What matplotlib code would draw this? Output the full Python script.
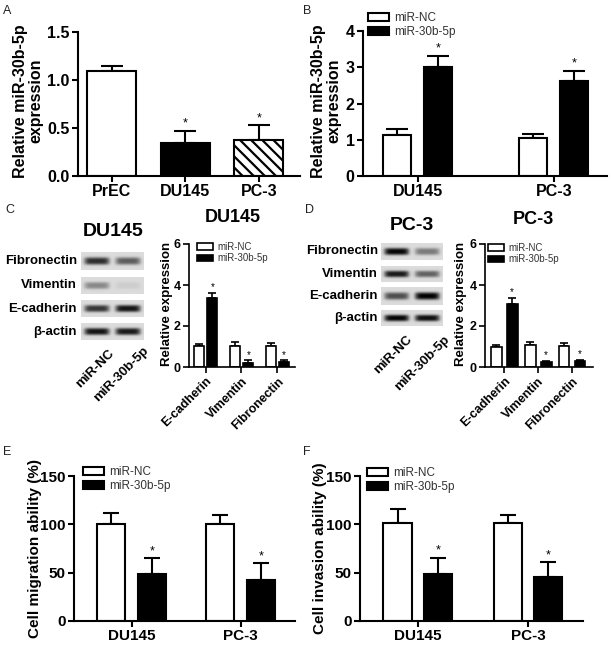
import numpy as np
import matplotlib
matplotlib.use("Agg")
import matplotlib.pyplot as plt

plt.rcParams['font.family'] = ['Liberation Sans', 'DejaVu Sans']
plt.rcParams['hatch.linewidth'] = 1.6

# ---- data ----
a_groups = ["PrEC", "DU145", "PC-3"]
a_vals = [1.09, 0.34, 0.37]
a_sd = [0.06, 0.13, 0.16]

groups = ["DU145", "PC-3"]
b_nc = [1.12, 1.05]
b_nc_sd = [0.19, 0.11]
b_mir = [3.02, 2.62]
b_mir_sd = [0.30, 0.28]

proteins = ["E-cadherin", "Vimentin", "Fibronectin"]
c_nc = [1.02, 1.02, 1.01]
c_nc_sd = [0.11, 0.20, 0.16]
c_mir = [3.36, 0.21, 0.26]
c_mir_sd = [0.27, 0.11, 0.07]

d_nc = [0.98, 1.06, 1.03]
d_nc_sd = [0.11, 0.16, 0.16]
d_mir = [3.07, 0.23, 0.28]
d_mir_sd = [0.32, 0.07, 0.06]

e_nc = [100, 100]
e_nc_sd = [12, 10]
e_mir = [49, 42]
e_mir_sd = [16, 18]

f_nc = [101, 101]
f_nc_sd = [15, 9]
f_mir = [49, 45.5]
f_mir_sd = [16.5, 15.5]

blot_rows = ["Fibronectin", "Vimentin", "E-cadherin", "β-actin"]
blot_lanes = ["miR-NC", "miR-30b-5p"]
# band darkness per row, per lane
du145_bands = [[0.72, 0.52], [0.34, 0.06], [0.68, 0.82], [0.82, 0.80]]
pc3_bands = [[0.88, 0.40], [0.80, 0.50], [0.58, 0.90], [0.88, 0.84]]

W, H = 613, 652
fig = plt.figure(figsize=(W / 100, H / 100), dpi=100)

ov = fig.add_axes([0, 0, 1, 1])
ov.axis('off')


def add_ax(x0, y0, x1, y1):
    return fig.add_axes([x0 / W, 1 - y1 / H, (x1 - x0) / W, (y1 - y0) / H])


def style(ax, ysize, lw=1.5):
    for s in ['top', 'right']:
        ax.spines[s].set_visible(False)
    for s in ['left', 'bottom']:
        ax.spines[s].set_linewidth(lw)
    ax.tick_params(width=lw, length=4, labelsize=ysize, pad=2)
    for t in ax.get_yticklabels():
        t.set_fontweight('bold')
    ax.patch.set_alpha(0)


def grouped(ax, nc, nc_sd, mir, mir_sd, width, off, cap, star, star_size, lw=1.5):
    x = np.arange(len(nc))
    b1 = ax.bar(x - off, nc, width, color='white', edgecolor='black',
                linewidth=lw, label='miR-NC', zorder=2)
    b2 = ax.bar(x + off, mir, width, color='black', edgecolor='black',
                linewidth=lw, label='miR-30b-5p', zorder=2)
    ax.errorbar(x - off, nc, yerr=[np.zeros(len(nc)), nc_sd], fmt='none',
                ecolor='black', elinewidth=lw, capsize=cap, capthick=lw, zorder=1)
    ax.errorbar(x + off, mir, yerr=[np.zeros(len(mir)), mir_sd], fmt='none',
                ecolor='black', elinewidth=lw, capsize=cap, capthick=lw, zorder=1)
    for xi, v, s in zip(x + off, mir, mir_sd):
        ax.text(xi, v + s + star, '*', ha='center', va='bottom', fontsize=star_size)
    return b1, b2


def legend(ax, handles, x, y, size, hl, hh):
    ax.legend(handles=handles, loc='upper left', bbox_to_anchor=(x / W, 1 - y / H),
              bbox_transform=fig.transFigure, frameon=False, fontsize=size,
              handlelength=hl, handleheight=hh, handletextpad=0.5,
              labelspacing=0.15, borderpad=0, borderaxespad=0, labelcolor='#333333')


# ---- panel A ----
ax = add_ax(78, 32, 300, 176)
xa = np.arange(len(a_vals))
bars = ax.bar(xa, a_vals, 0.67, color=['white', 'black', 'white'], edgecolor='black',
              linewidth=1.5, zorder=2)
bars[2].set_hatch('\\\\\\')
ax.errorbar(xa, a_vals, yerr=[np.zeros(3), a_sd], fmt='none', ecolor='black',
            elinewidth=1.5, capsize=8, capthick=1.5, zorder=1)
for xi in [1, 2]:
    ax.text(xi, a_vals[xi] + a_sd[xi] + 0.01, '*', ha='center', va='bottom', fontsize=9)
ax.set_xlim(-0.46, 2.56)
ax.set_ylim(0, 1.5)
ax.set_yticks([0, 0.5, 1.0, 1.5])
ax.set_yticklabels(['0.0', '0.5', '1.0', '1.5'])
ax.set_xticks(xa)
ax.set_xticklabels(a_groups, fontsize=13, fontweight='bold')
style(ax, 11.5)

# ---- panel B ----
ax = add_ax(363, 31, 607, 176)
hb = grouped(ax, b_nc, b_nc_sd, b_mir, b_mir_sd, 0.205, 0.15, 8, 0.03, 9)
ax.set_xlim(-0.40, 1.39)
ax.set_ylim(0, 4)
ax.set_yticks([0, 1, 2, 3, 4])
ax.set_xticks([0, 1])
ax.set_xticklabels(groups, fontsize=13, fontweight='bold')
style(ax, 11.5)
legend(ax, hb, 368, 12, 8.5, 1.75, 0.65)

# ---- panel C bars ----
ax = add_ax(189, 244, 295, 367)
hc = grouped(ax, c_nc, c_nc_sd, c_mir, c_mir_sd, 0.28, 0.19, 3, 0.03, 7, lw=1.2)
ax.set_xlim(-0.46, 2.49)
ax.set_ylim(0, 6)
ax.set_yticks([0, 2, 4, 6])
ax.set_xticks([0, 1, 2])
ax.set_xticklabels(proteins, fontsize=9, fontweight='bold', rotation=45,
                   ha='right', rotation_mode='anchor')
style(ax, 9, lw=1.2)
legend(ax, hc, 197, 242, 7, 1.6, 0.7)

# ---- panel D bars ----
ax = add_ax(485, 244, 593, 367)
hd = grouped(ax, d_nc, d_nc_sd, d_mir, d_mir_sd, 0.32, 0.235, 3, 0.03, 7, lw=1.2)
ax.set_xlim(-0.57, 2.62)
ax.set_ylim(0, 6)
ax.set_yticks([0, 2, 4, 6])
ax.set_xticks([0, 1, 2])
ax.set_xticklabels(proteins, fontsize=9, fontweight='bold', rotation=45,
                   ha='right', rotation_mode='anchor')
style(ax, 9, lw=1.2)
legend(ax, hd, 488, 243, 7, 1.6, 0.7)

# ---- panel E ----
ax = add_ax(74, 476, 295, 621)
he = grouped(ax, e_nc, e_nc_sd, e_mir, e_mir_sd, 0.257, 0.188, 6, 1, 9)
ax.set_xlim(-0.53, 1.5)
ax.set_ylim(0, 150)
ax.set_yticks([0, 50, 100, 150])
ax.set_xticks([0, 1])
ax.set_xticklabels(groups, fontsize=12, fontweight='bold')
style(ax, 11)
legend(ax, he, 83, 466, 8.5, 1.75, 0.65)

# ---- panel F ----
ax = add_ax(360, 476, 583, 621)
hf = grouped(ax, f_nc, f_nc_sd, f_mir, f_mir_sd, 0.255, 0.186, 6, 1, 9)
ax.set_xlim(-0.527, 1.5)
ax.set_ylim(0, 150)
ax.set_yticks([0, 50, 100, 150])
ax.set_xticks([0, 1])
ax.set_xticklabels(groups, fontsize=12, fontweight='bold')
style(ax, 11)
legend(ax, hf, 367, 467, 8.5, 1.75, 0.65)


# ---- western blots ----
def blot_strip(dark, w=80, h=36):
    yy = np.linspace(-1, 1, h)[:, None]
    xx = np.linspace(0, 1, w)[None, :]
    img = np.full((h, w), 0.86)
    for i, d in enumerate(dark):
        c = (i + 0.5) / len(dark)
        px = np.exp(-((xx - c) / 0.2) ** 6)
        py = np.exp(-(np.abs(yy) / 0.42) ** 3)
        img = img - d * 0.95 * px * py
    return np.clip(img, 0, 1)


def draw_blot(bands, x0, x1, rows_y, label_x, title, title_xy, lane_lbl):
    for (y0, y1), name, dark in zip(rows_y, blot_rows, bands):
        ov.imshow(blot_strip(dark), cmap='gray', vmin=0, vmax=1, aspect='auto',
                  extent=(x0, x1, y1, y0), interpolation='bilinear')
        ov.text(label_x, (y0 + y1) / 2, name, ha='right', va='center',
                fontsize=9.5, fontweight='bold')
    ov.text(title_xy[0], title_xy[1], title, ha='center', va='center',
            fontsize=14, fontweight='bold')
    for (lx, ly), lab in zip(lane_lbl, blot_lanes):
        ov.text(lx, ly, lab, rotation=45, ha='right', va='top', rotation_mode='anchor',
                fontsize=9.5, fontweight='bold')


draw_blot(du145_bands, 81, 144, [(252, 270), (277, 294), (300, 317), (323, 340)],
          77, "DU145", (113, 232), [(108, 347), (143, 345)])
draw_blot(pc3_bands, 381, 443, [(243, 260), (266, 282), (287, 305), (310, 326)],
          378, "PC-3", (412, 225), [(406, 333), (444, 334)])

# ---- axis titles and panel labels ----
ov.text(28, 101, "Relative miR-30b-5p\nexpression", rotation=90, ha='center',
        va='center', fontsize=11.5, fontweight='bold', multialignment='center',
        linespacing=1.0)
ov.text(326, 101, "Relative miR-30b-5p\nexpression", rotation=90, ha='center',
        va='center', fontsize=11.5, fontweight='bold', multialignment='center',
        linespacing=1.0)
ov.text(167, 304, "Relative expression", rotation=90, ha='center', va='center',
        fontsize=9.5, fontweight='bold')
ov.text(461, 304, "Relative expression", rotation=90, ha='center', va='center',
        fontsize=9.5, fontweight='bold')
ov.text(233, 218, "DU145", ha='center', va='center', fontsize=13, fontweight='bold')
ov.text(533, 220, "PC-3", ha='center', va='center', fontsize=13, fontweight='bold')
ov.text(35, 548, "Cell migration ability (%)", rotation=90, ha='center', va='center',
        fontsize=11, fontweight='bold')
ov.text(320, 548, "Cell invasion ability (%)", rotation=90, ha='center', va='center',
        fontsize=11, fontweight='bold')

for lab, (x, y) in zip("ABCDEF", [(3, 11), (303, 11), (5, 210), (305, 210),
                                  (3, 452), (303, 452)]):
    ov.text(x, y, lab, ha='left', va='center', fontsize=9, color='#222222')

ov.set_xlim(0, W)
ov.set_ylim(H, 0)

fig.savefig("out.png", dpi=100)
